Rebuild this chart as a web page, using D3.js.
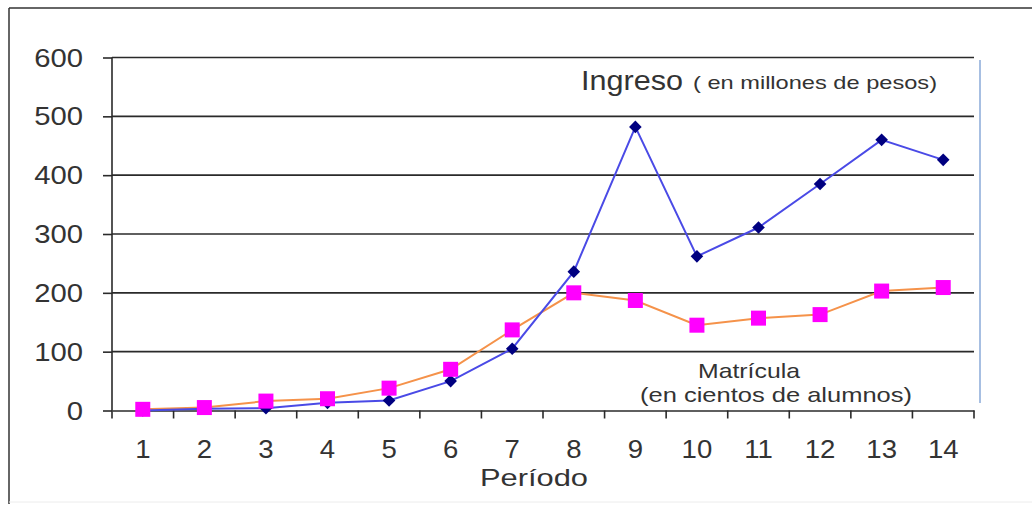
<!DOCTYPE html>
<html><head><meta charset="utf-8">
<script src="https://cdn.jsdelivr.net/npm/d3@7"></script>
<style>body{margin:0;background:#fff}text{font-family:"Liberation Sans",Arial,sans-serif}</style>
</head><body><svg id="c" width="1032" height="506"></svg>
<script>
const periods = [1,2,3,4,5,6,7,8,9,10,11,12,13,14];
const ingreso = [0,3,4,13,17,50,105,236,482,262,311,385,460,426];
const matricula = [2,5,16,20,38,70,137,200,187,145,157,163,203,209];
const yTicks = [0,100,200,300,400,500,600];

const svg = d3.select("#c");
const pL = 112, pR = 974, pT = 57.5, pB = 410.5;
const x = d3.scaleBand().domain(periods).range([pL, pR]);
const y = d3.scaleLinear().domain([0,600]).range([pB, pT]);
const cx = d => x(d) + x.bandwidth()/2;
const FONT = "Liberation Sans, Arial, sans-serif";
const stretch = (sel, k) => sel.each(function(){
  const w = this.getComputedTextLength();
  d3.select(this).attr("textLength", w*k).attr("lengthAdjust","spacingAndGlyphs");
});

// outer frame (top + left, faint bottom)
svg.append("line").attr("x1",9).attr("x2",1032).attr("y1",8).attr("y2",8).attr("stroke","#333").attr("stroke-width",1.5);
svg.append("line").attr("x1",9).attr("x2",9).attr("y1",8).attr("y2",504).attr("stroke","#333").attr("stroke-width",1.5);
svg.append("line").attr("x1",9).attr("x2",1032).attr("y1",502).attr("y2",502).attr("stroke","#ececec").attr("stroke-width",1);

// gridlines
svg.append("g").selectAll("line").data(yTicks.filter(d=>d>0)).join("line")
  .attr("x1",pL).attr("x2",pR).attr("y1",d=>y(d)).attr("y2",d=>y(d))
  .attr("stroke","#2a2a2a").attr("stroke-width",1.6);

// y axis
const ya = svg.append("g").attr("transform",`translate(${pL},0)`)
  .call(d3.axisLeft(y).tickValues(yTicks).tickSize(9).tickPadding(20));
ya.select(".domain").remove();
ya.append("line").attr("x1",0).attr("x2",0).attr("y1",pT).attr("y2",pB+8).attr("stroke","#2a2a2a").attr("stroke-width",1.6);
ya.selectAll(".tick line").attr("stroke","#2a2a2a").attr("stroke-width",1.6);
ya.selectAll(".tick text").attr("font-size",25).attr("fill","#333").attr("font-family",FONT).attr("dy","0.34em").call(stretch,1.17);

// x axis
const xa = svg.append("g").attr("transform",`translate(0,${pB})`)
  .call(d3.axisBottom(x).tickSize(0).tickPadding(29));
xa.select(".domain").attr("stroke","#2a2a2a").attr("stroke-width",1.6);
xa.selectAll(".tick text").attr("font-size",26).attr("fill","#333").attr("font-family",FONT).call(stretch,1.06);
const bounds = periods.map(p => x(p) + x.bandwidth());
xa.append("g").selectAll("line").data(bounds).join("line")
  .attr("x1",d=>d).attr("x2",d=>d).attr("y1",0).attr("y2",8)
  .attr("stroke","#2a2a2a").attr("stroke-width",1.6);

// right blue line
svg.append("line").attr("x1",980).attr("x2",980).attr("y1",60).attr("y2",403)
  .attr("stroke","#8aaad8").attr("stroke-width",1.5);

// lines
const line = d3.line().x((d,i)=>cx(periods[i])).y(d=>y(d));
svg.append("path").datum(matricula).attr("d",line).attr("fill","none").attr("stroke","#f5924a").attr("stroke-width",2);
svg.append("path").datum(ingreso).attr("d",line).attr("fill","none").attr("stroke","#4a4ae6").attr("stroke-width",2);

// markers
svg.append("g").selectAll("path").data(ingreso).join("path")
  .attr("d", "M0,-6.3L6.3,0L0,6.3L-6.3,0Z")
  .attr("transform",(d,i)=>`translate(${cx(periods[i])},${y(d)})`)
  .attr("fill","#000080");
svg.append("g").selectAll("rect").data(matricula).join("rect")
  .attr("x",(d,i)=>cx(periods[i])-7.5).attr("y",d=>y(d)-7.5)
  .attr("width",15).attr("height",15).attr("fill","#ff00ff");

// labels
const lab = (tx, ty, size, txt, len, anchor) => svg.append("text").attr("x",tx).attr("y",ty)
  .attr("font-size",size).attr("fill","#333").attr("text-anchor",anchor||"start")
  .attr("textLength",len).attr("lengthAdjust","spacingAndGlyphs").text(txt);
lab(581, 90, 28, "Ingreso", 102);
lab(693, 89, 19, "( en millones de pesos)", 244);
lab(749, 378, 21, "Matrícula", 102, "middle");
lab(776, 402, 21, "(en cientos de alumnos)", 272, "middle");
lab(534, 486, 24, "Período", 108, "middle");
</script></body></html>
